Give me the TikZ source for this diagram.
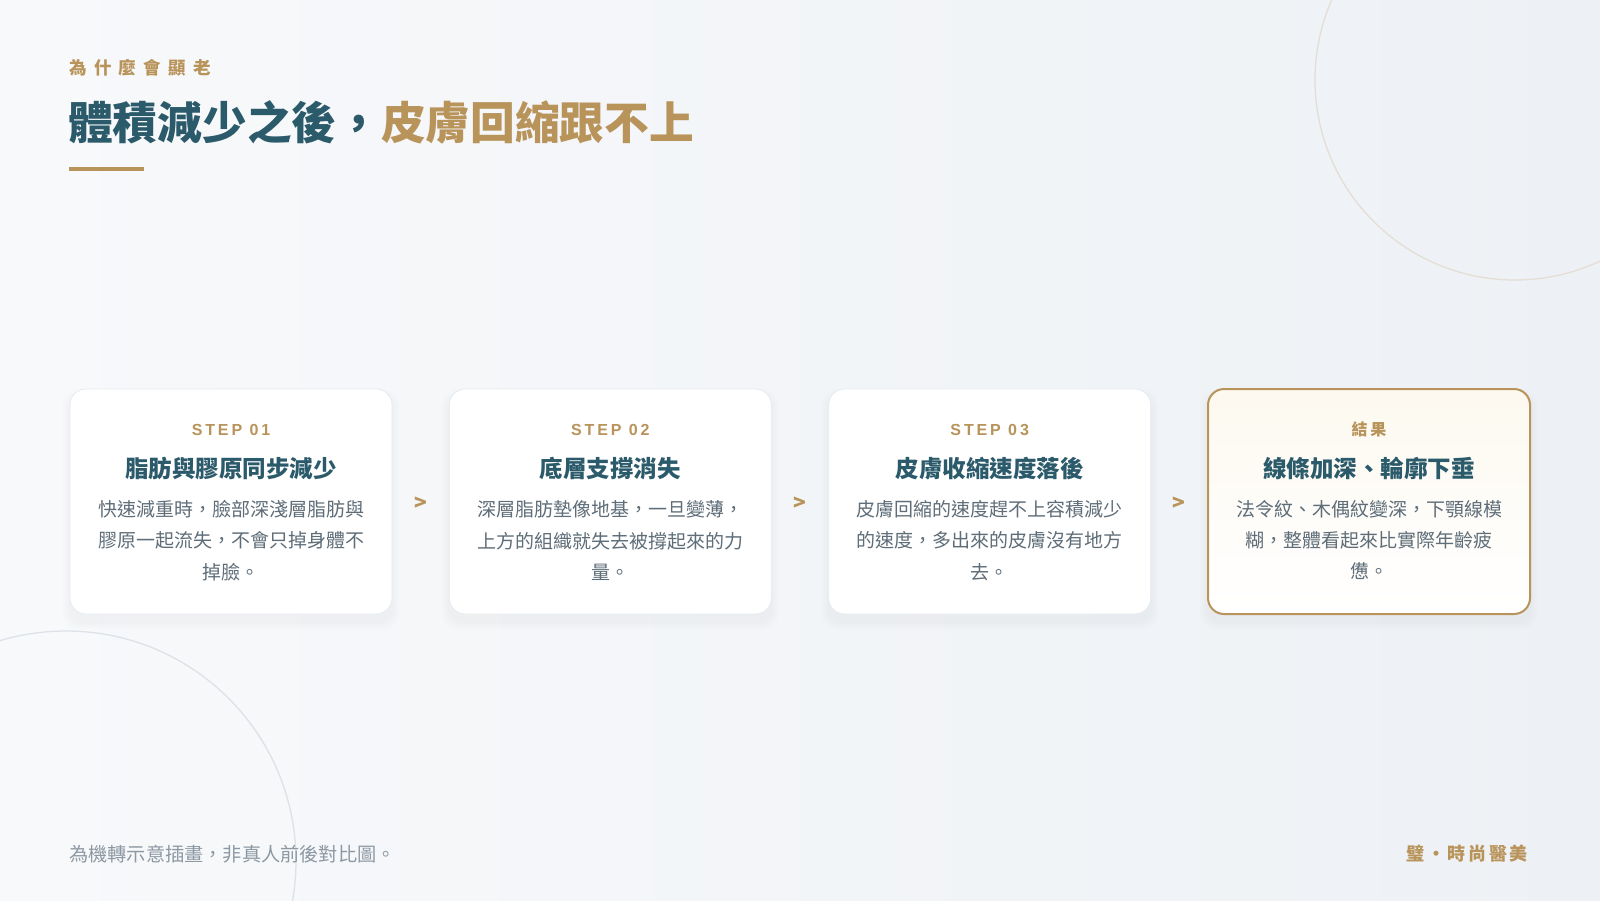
\documentclass[tikz,border=0pt]{standalone}
\usepackage{fontspec}
\setmainfont{Noto Sans CJK TC}
\newfontfamily\latinsans{Liberation Sans}[LetterSpace=18]
\usetikzlibrary{calc}
\definecolor{cteal}{HTML}{2B5A6B}
\definecolor{cgold}{HTML}{B8935A}
\definecolor{cbody}{HTML}{5E6D78}
\definecolor{cfoot}{HTML}{8C98A2}
\definecolor{bgA}{HTML}{F8F9FB}
\definecolor{bgB}{HTML}{EDF1F5}
\definecolor{ringA}{HTML}{E4DED4}
\definecolor{ringB}{HTML}{DDE2E8}
\definecolor{cardline}{HTML}{E7EBEF}
\definecolor{cream}{HTML}{FDF9F0}
\tikzset{
  card/.style={rounded corners=16pt, minimum width=322pt, minimum height=225pt, draw=cardline, line width=0.8pt, fill=white, inner sep=0pt},
  goldcard/.style={card, draw=cgold, line width=2pt, top color=cream, bottom color=white},
  steplbl/.style={inner sep=0pt, text=cgold, font=\fontsize{16}{18}\selectfont\bfseries\addfontfeature{LetterSpace=18}},
  cardtitle/.style={inner sep=0pt, text=cteal, font=\fontsize{23.5}{28}\selectfont\bfseries},
  cardbody/.style={inner sep=0pt, text=cbody, align=center, font=\fontsize{19}{31.2}\selectfont},
  chev/.style={inner sep=0pt, text=cgold, font=\fontsize{21}{22}\selectfont\bfseries}
}
\begin{document}
\begin{tikzpicture}[x=1pt,y=-1pt]
\useasboundingbox (0,0) rectangle (1600,900);
\shade[left color=bgA, right color=bgB] (0,0) rectangle (1600,900);
\begin{scope}
\clip (0,0) rectangle (1600,900);
\draw[ringA, line width=1.3pt] (1515,80) circle (200);
\draw[ringB, line width=1.3pt] (66,861) circle (230);
\end{scope}
% header
\node[anchor=west, inner sep=0pt, text=cgold, font=\fontsize{17.5}{20}\selectfont\bfseries\addfontfeature{LetterSpace=42}] (kicker) at (69,68) {為什麼會顯老};
\node[anchor=west, inner sep=0pt, font=\fontsize{44.7}{50}\selectfont\bfseries] (title) at (68,122.5) {\textcolor{cteal}{體積減少之後，}\textcolor{cgold}{皮膚回縮跟不上}};
\draw[cgold, line width=3.5pt] (69,169) -- (144,169);
% shadows
\foreach \cx in {231,610.3,989.7,1369}{
  \foreach \i in {1,...,8}{
    \fill[black, opacity=0.005, rounded corners=16pt] (\cx-161-\i,389-\i+8) rectangle (\cx+161+\i,614+\i+8);
  }
}
% cards
\node[card] (c1) at (231,501.5) {};
\node[card] (c2) at (610.3,501.5) {};
\node[card] (c3) at (989.7,501.5) {};
\node[goldcard] (c4) at (1369,501.5) {};
\foreach \c/\s/\t/\b in {
  c1/{\latinsans STEP 01}/脂肪與膠原同步減少/{快速減重時，臉部深淺層脂肪與\\膠原一起流失，不會只掉身體不\\掉臉。},
  c2/{\latinsans STEP 02}/底層支撐消失/{深層脂肪墊像地基，一旦變薄，\\上方的組織就失去被撐起來的力\\量。},
  c3/{\latinsans STEP 03}/皮膚收縮速度落後/{皮膚回縮的速度趕不上容積減少\\的速度，多出來的皮膚沒有地方\\去。},
  c4/結果/線條加深、輪廓下垂/{法令紋、木偶紋變深，下顎線模\\糊，整體看起來比實際年齡疲\\憊。}}{
  \node[steplbl] (\c-s) at ($(\c.north)+(0,41.5)$) {\s};
  \node[cardtitle] (\c-t) at ($(\c.north)+(0,80)$) {\t};
  \node[cardbody] (\c-b) at ($(\c.north)+(0,152)$) {\b};
}
% chevrons
\path (c1.east) -- (c2.west) node[midway, chev, yshift=-2pt] (a12) {>};
\path (c2.east) -- (c3.west) node[midway, chev, yshift=-2pt] (a23) {>};
\path (c3.east) -- (c4.west) node[midway, chev, yshift=-2pt] (a34) {>};
% footer
\node[anchor=west, inner sep=0pt, text=cfoot, font=\fontsize{19.2}{22}\selectfont] (foot) at (69,854) {為機轉示意插畫，非真人前後對比圖。};
\node[anchor=east, inner sep=0pt, text=cgold, font=\fontsize{18}{22}\selectfont\bfseries\addfontfeature{LetterSpace=15}] (brand) at (1528,854) {璧・時尚醫美};
\end{tikzpicture}
\end{document}
